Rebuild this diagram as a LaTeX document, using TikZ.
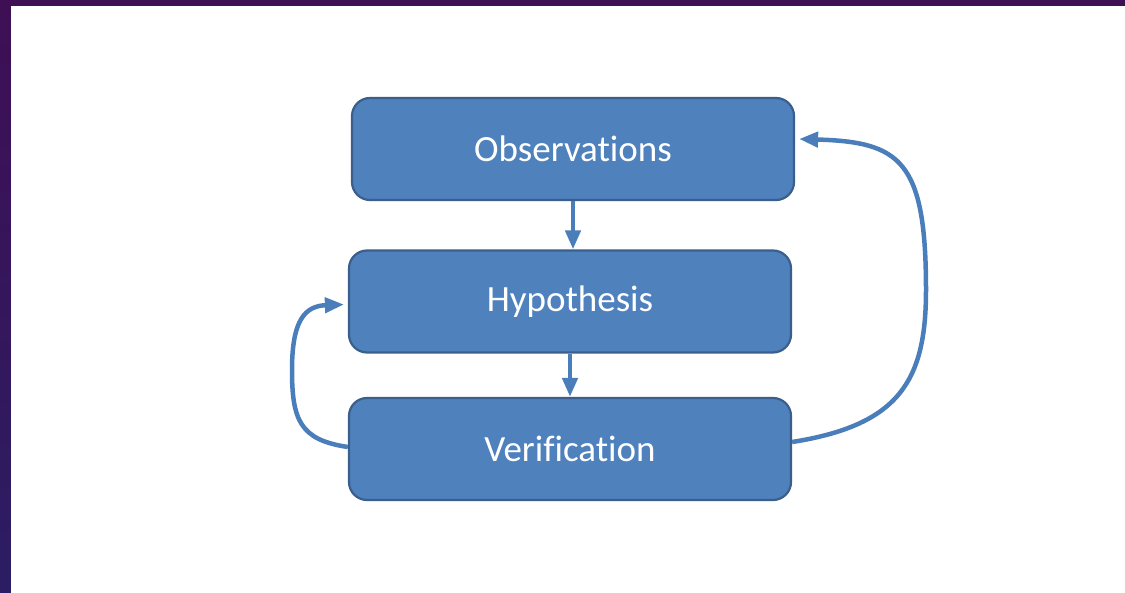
\documentclass[tikz,border=0pt]{standalone}
\usepackage{fontspec}
\setmainfont{Carlito}[Ligatures=NoCommon]
\usetikzlibrary{arrows.meta}
\definecolor{boxblue}{HTML}{4F81BD}
\definecolor{boxedge}{HTML}{3A5F8C}
\definecolor{linkblue}{HTML}{4A7EBB}
\definecolor{frametop}{HTML}{3F0F55}
\definecolor{framebot}{HTML}{2B1D63}
\begin{document}
\begin{tikzpicture}[x=1pt,y=-1pt,
    stagebox/.style={draw=boxedge, line width=2.2pt, fill=boxblue, rounded corners=18pt,
        minimum width=442pt, minimum height=102pt, text=white,
        font=\fontsize{37}{42}\selectfont},
    link/.style={draw=linkblue, line width=4.5pt, -{Triangle[length=19pt,width=15pt]}}]
    \useasboundingbox (0,0) rectangle (1125,593);
    % frame
    \shade[top color=frametop, bottom color=framebot] (0,0) rectangle (1125,593);
    \fill[white] (11,6) rectangle (1125,593);

    \node[stagebox] (obs) at (573,149) {\raisebox{-2pt}{Observations}};
    \node[stagebox] (hyp) at (570,301.5) {\raisebox{-2pt}{Hypothesis}};
    \node[stagebox] (ver) at (570,449) {\raisebox{-2pt}{Verification}};

    \draw[link] (obs.south) -- (obs.south |- hyp.north);
    \draw[link] (hyp.south) -- (hyp.south |- ver.north);
    % loops back
    \draw[link] ([yshift=2pt]ver.west) .. controls (300,440) and (292,420) .. (292,370)
        .. controls (292,320) and (305,306) .. ([shift={(-4pt,-3pt)}]hyp.west);
    \draw[link] ([yshift=7pt]ver.east) .. controls (900,425) and (926,380) .. (926,290)
        .. controls (926,160) and (900,142) .. ([shift={(4pt,10pt)}]obs.east);
\end{tikzpicture}
\end{document}
